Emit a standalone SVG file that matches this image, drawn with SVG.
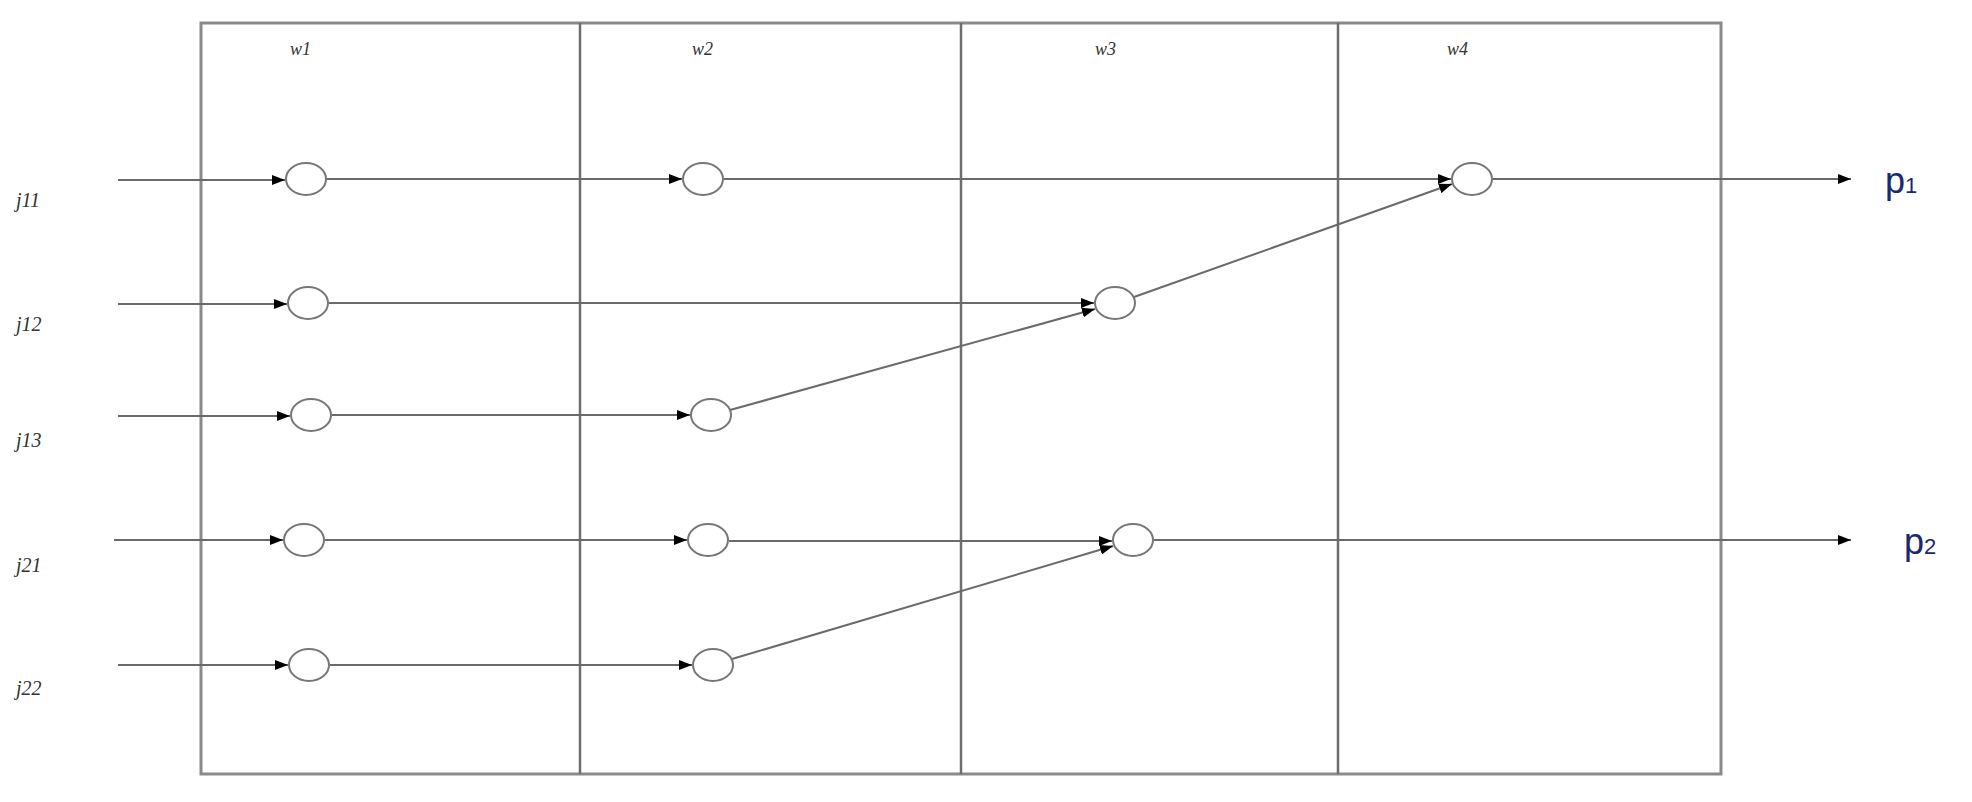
<svg xmlns="http://www.w3.org/2000/svg" width="1972" height="802" viewBox="0 0 1972 802">
<style>
.box{fill:none;stroke:#8a8a8a;stroke-width:3}
.div{stroke:#6e6e6e;stroke-width:2.5}
.c{stroke:#6a6a6a;stroke-width:2;fill:none}
.n{fill:#fff;stroke:#777;stroke-width:2}
.j{font-family:"Liberation Serif",serif;font-style:italic;font-size:20px;fill:#333}
.w{font-family:"Liberation Serif",serif;font-style:italic;font-size:18px;fill:#333}
.p{font-family:"Liberation Sans",sans-serif;font-size:36px;fill:#1a2a6c}
</style>
<defs><marker id="a" markerWidth="13" markerHeight="10" refX="13" refY="5" orient="auto" markerUnits="userSpaceOnUse"><path d="M0,0L13,5L0,10z" fill="#000"/></marker></defs>
<rect class="box" x="201" y="23" width="1520" height="751"/>
<line class="div" x1="580" y1="23" x2="580" y2="774"/>
<line class="div" x1="961" y1="23" x2="961" y2="774"/>
<line class="div" x1="1338" y1="23" x2="1338" y2="774"/>
<text class="w" x="290" y="55">w1</text><text class="w" x="692" y="55">w2</text><text class="w" x="1095" y="55">w3</text><text class="w" x="1447" y="55">w4</text>
<text class="j" x="16" y="207">j11</text><text class="j" x="16" y="331">j12</text><text class="j" x="16" y="447">j13</text><text class="j" x="16" y="572">j21</text><text class="j" x="16" y="695">j22</text>
<text class="p" x="1885" y="193">p<tspan font-size="22">1</tspan></text>
<text class="p" x="1904" y="554">p<tspan font-size="22">2</tspan></text>
<g id="connectors">
<line class="c" x1="118" y1="180" x2="285" y2="180" marker-end="url(#a)"/>
<line class="c" x1="327" y1="179" x2="682" y2="179" marker-end="url(#a)"/>
<line class="c" x1="724" y1="179" x2="1451" y2="179" marker-end="url(#a)"/>
<line class="c" x1="1493" y1="179" x2="1851" y2="179" marker-end="url(#a)"/>
<line class="c" x1="118" y1="304" x2="287" y2="304" marker-end="url(#a)"/>
<line class="c" x1="329" y1="303" x2="1094" y2="303" marker-end="url(#a)"/>
<line class="c" x1="1134" y1="297" x2="1452" y2="184" marker-end="url(#a)"/>
<line class="c" x1="118" y1="416" x2="290" y2="416" marker-end="url(#a)"/>
<line class="c" x1="332" y1="415" x2="690" y2="415" marker-end="url(#a)"/>
<line class="c" x1="730" y1="410" x2="1095" y2="309" marker-end="url(#a)"/>
<line class="c" x1="114" y1="540" x2="283" y2="540" marker-end="url(#a)"/>
<line class="c" x1="325" y1="540" x2="687" y2="540" marker-end="url(#a)"/>
<line class="c" x1="729" y1="541" x2="1112" y2="541" marker-end="url(#a)"/>
<line class="c" x1="1154" y1="540" x2="1851" y2="540" marker-end="url(#a)"/>
<line class="c" x1="118" y1="665" x2="288" y2="665" marker-end="url(#a)"/>
<line class="c" x1="330" y1="665" x2="692" y2="665" marker-end="url(#a)"/>
<line class="c" x1="732" y1="659" x2="1113" y2="546" marker-end="url(#a)"/>
</g>
<g id="n11"><ellipse class="n" cx="306" cy="179" rx="20" ry="16"/></g>
<g id="n12"><ellipse class="n" cx="703" cy="179" rx="20" ry="16"/></g>
<g id="n14"><ellipse class="n" cx="1472" cy="179" rx="20" ry="16"/></g>
<g id="n21"><ellipse class="n" cx="308" cy="303" rx="20" ry="16"/></g>
<g id="n23"><ellipse class="n" cx="1115" cy="303" rx="20" ry="16"/></g>
<g id="n31"><ellipse class="n" cx="311" cy="415" rx="20" ry="16"/></g>
<g id="n32"><ellipse class="n" cx="711" cy="415" rx="20" ry="16"/></g>
<g id="n41"><ellipse class="n" cx="304" cy="540" rx="20" ry="16"/></g>
<g id="n42"><ellipse class="n" cx="708" cy="540" rx="20" ry="16"/></g>
<g id="n43"><ellipse class="n" cx="1133" cy="540" rx="20" ry="16"/></g>
<g id="n51"><ellipse class="n" cx="309" cy="665" rx="20" ry="16"/></g>
<g id="n52"><ellipse class="n" cx="713" cy="665" rx="20" ry="16"/></g>
</svg>
